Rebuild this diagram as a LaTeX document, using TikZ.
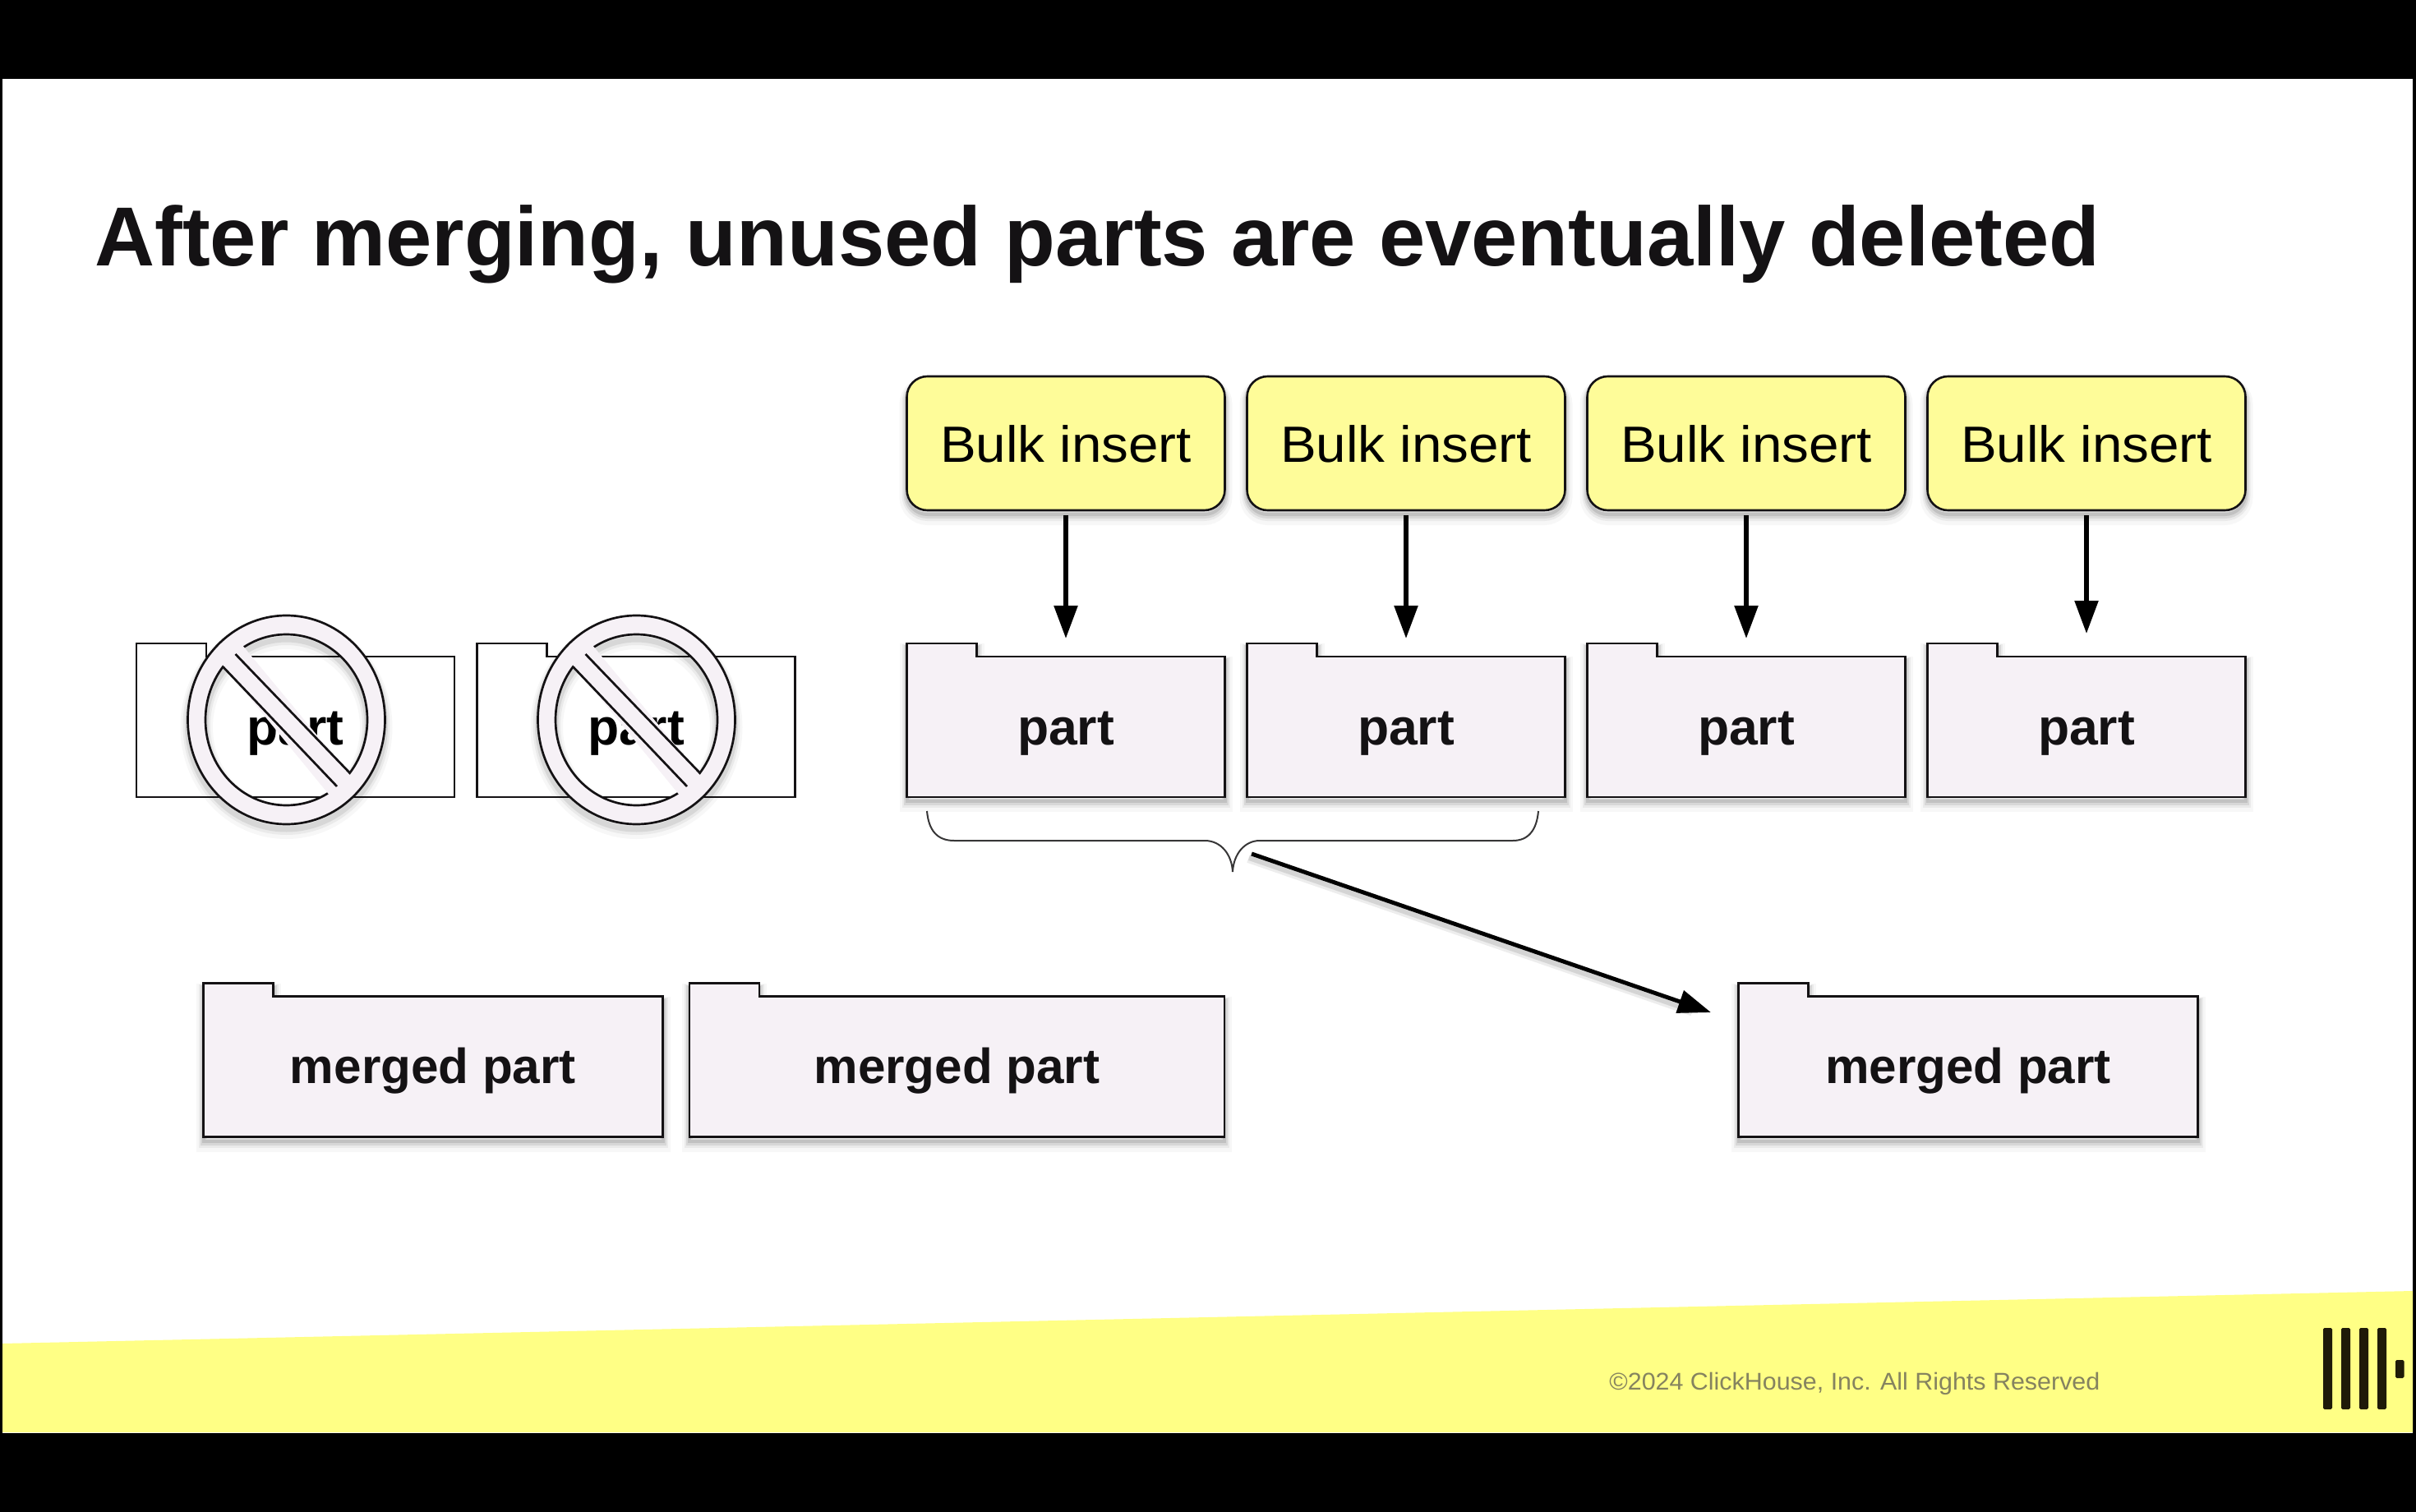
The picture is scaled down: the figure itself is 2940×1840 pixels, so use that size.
\documentclass[tikz,border=0pt]{standalone}
\usepackage{fontspec}
\usepackage{graphicx}
\setmainfont{Liberation Sans}
\usetikzlibrary{arrows.meta,backgrounds}
\definecolor{bandyellow}{HTML}{FFFF85}
\definecolor{boxyellow}{HTML}{FEFC99}
\definecolor{folderfill}{HTML}{F6F1F6}
\definecolor{inkdark}{HTML}{141214}
\definecolor{footgray}{HTML}{85835F}
\definecolor{logodark}{HTML}{1F1A08}
\newcommand{\fitw}[2]{\resizebox{#1}{\height}{#2}}
\tikzset{
  softshadow/.style={
    preaction={draw=black,draw opacity=.03,line width=9pt,transform canvas={yshift=-4.5pt}},
    preaction={draw=black,draw opacity=.05,line width=6pt,transform canvas={yshift=-3.5pt}},
    preaction={draw=black,draw opacity=.08,line width=4pt,transform canvas={yshift=-3pt}},
    preaction={draw=black,draw opacity=.10,line width=2pt,transform canvas={yshift=-2.5pt}}},
  bulkbox/.style={rectangle,rounded corners=12.5pt,draw=inkdark,line width=1.3pt,fill=boxyellow,softshadow,
    minimum width=193.5pt,minimum height=81.5pt,inner sep=0pt,outer sep=0pt,text height=27.5pt,text depth=4.5pt,text=black},
  folderbody/.style={rectangle,inner sep=0pt,outer sep=0pt,text=inkdark,font=\bfseries},
  partbody/.style={folderbody,minimum width=193.5pt,minimum height=85.5pt,text height=26pt,text depth=4pt},
  mergedbody/.style={folderbody,minimum height=85.5pt,text height=25pt,text depth=5pt},
  liveoutline/.style={draw=inkdark,line width=1.35pt,fill=folderfill,line join=miter,softshadow},
  ghostoutline/.style={draw=inkdark,line width=1.2pt,fill=white,line join=miter},
  insertarrow/.style={draw=black,line width=2.75pt,-{Triangle[length=20pt,width=14pt]},shorten <=3pt},
  bracestroke/.style={draw=inkdark!85,line width=1pt},
  ringstroke/.style={draw=inkdark,line width=1.35pt},
  logobar/.style={fill=logodark,rounded corners=.8pt}
}
\newcommand{\folder}[5]{% outline style, body style, name, centre, text
  \node[#2] (#3) at (#4) {#5};
  \begin{scope}[on background layer]
    \path[#1] (#3.south west) -- (#3.north west) -- ++(0,-16) -- ++(85,0) -- ++(0,16)
      -- (#3.north east) -- (#3.south east) -- cycle;
  \end{scope}}
\newcommand{\noentry}[1]{%
  \begin{scope}[shift={(#1,0)}]
    \path[ringstroke,fill=folderfill,even odd rule,
      preaction={draw=black,draw opacity=.03,line width=9pt,transform canvas={yshift=-4.5pt}},
      preaction={draw=black,draw opacity=.05,line width=6pt,transform canvas={yshift=-3.5pt}},
      preaction={draw=black,draw opacity=.08,line width=3.5pt,transform canvas={yshift=-3pt}}]
      (348.5,876) ellipse [x radius=120,y radius=127]
      (348.5,876) ellipse [x radius=98.5,y radius=104];
    \fill[folderfill] (279,790) -- (294,784) -- (434,953) -- (402,969) -- (262,798) -- cycle;
    \draw[ringstroke] (286.5,796) -- (426,941);
    \draw[ringstroke] (271.6,811.7) -- (410,957);
  \end{scope}}
\begin{document}
\begin{tikzpicture}[x=.5pt,y=-.5pt]
\useasboundingbox (0,0) rectangle (2940,1840);
\begin{scope}[on background layer]
  \fill[black] (0,0) rectangle (2940,1840);
  \fill[white] (3,96) rectangle (2936,1744);
  \fill[bandyellow] (3,1635) -- (2936,1571) -- (2936,1743) -- (3,1743) -- cycle;
\end{scope}

\node[anchor=base west,inner sep=0pt,text=inkdark,font=\bfseries\fontsize{51}{60}\selectfont] (title) at (115,324)
  {\fitw{1220pt}{After merging, unused parts are eventually deleted}};

% Bulk insert boxes
\foreach \n/\x in {1/1297,2/1711,3/2125,4/2539}{
  \node[bulkbox,font=\fontsize{31}{36}\selectfont] (b\n) at (\x,539.5) {\fitw{153pt}{Bulk insert}};
}

% Ghost parts
\folder{ghostoutline}{partbody,font=\bfseries\fontsize{31}{36}\selectfont,text=black}{g1}{359.5,884.5}{\fitw{59pt}{part}}
\folder{ghostoutline}{partbody,font=\bfseries\fontsize{31}{36}\selectfont,text=black}{g2}{774,884.5}{\fitw{59pt}{part}}
\noentry{0}
\noentry{426}

% Live parts
\foreach \n/\x in {1/1297,2/1711,3/2125,4/2539}{
  \folder{liveoutline}{partbody,font=\bfseries\fontsize{31}{36}\selectfont}{p\n}{\x,884.5}{\fitw{59pt}{part}}
}

% Merged parts
\folder{liveoutline}{mergedbody,minimum width=279.5pt,font=\bfseries\fontsize{30}{36}\selectfont}{m1}{527,1298}{\fitw{174pt}{merged part}}
\folder{liveoutline}{mergedbody,minimum width=325.5pt,font=\bfseries\fontsize{30}{36}\selectfont}{m2}{1164.5,1298}{\fitw{174pt}{merged part}}
\folder{liveoutline}{mergedbody,minimum width=279.5pt,font=\bfseries\fontsize{30}{36}\selectfont}{m3}{2395,1298}{\fitw{174pt}{merged part}}

% Insert arrows
\draw[insertarrow,shorten >=11pt] (b1.south) -- (p1.north);
\draw[insertarrow,shorten >=11pt] (b2.south) -- (p2.north);
\draw[insertarrow,shorten >=11pt] (b3.south) -- (p3.north);
\draw[insertarrow,shorten >=14pt] (b4.south) -- (p4.north);

% Brace
\coordinate (braceleft) at (1128,987);
\coordinate (braceright) at (1872,987);
\coordinate (bracetip) at (1500,1061);
\draw[bracestroke] (braceleft) .. controls (1130,1010) and (1140,1023) .. (1161,1023)
  -- (1466,1023) .. controls (1486,1023) and (1499,1040) .. (bracetip)
  .. controls (1501,1040) and (1514,1023) .. (1533,1023)
  -- (1841,1023) .. controls (1860,1023) and (1870,1010) .. (braceright);

% Diagonal arrow
\coordinate (diagstart) at (1523,1039);
\coordinate (diagend) at (2082,1232);
\draw[draw=black,draw opacity=.07,line width=5pt,shorten >=10pt,transform canvas={xshift=-2pt,yshift=-3pt}] (diagstart) -- (diagend);
\draw[draw=black,draw opacity=.10,line width=3pt,shorten >=10pt,transform canvas={xshift=-1.5pt,yshift=-2.5pt}] (diagstart) -- (diagend);
\draw[draw=black,line width=2.5pt,-{Triangle[length=20pt,width=14pt]}] (diagstart) -- (diagend);

% Footer
\node[anchor=base west,inner sep=0pt,text=footgray,font=\fontsize{14.7}{18}\selectfont] (foot) at (1958,1691)
  {\fitw{298.5pt}{©2024 ClickHouse, Inc. All Rights Reserved}};
\foreach \x in {2827,2849,2871,2893}{
  \fill[logobar] (\x,1616) rectangle ++(11,99);
}
\fill[logobar] (2915,1655) rectangle ++(10.5,22);
\end{tikzpicture}
\end{document}
